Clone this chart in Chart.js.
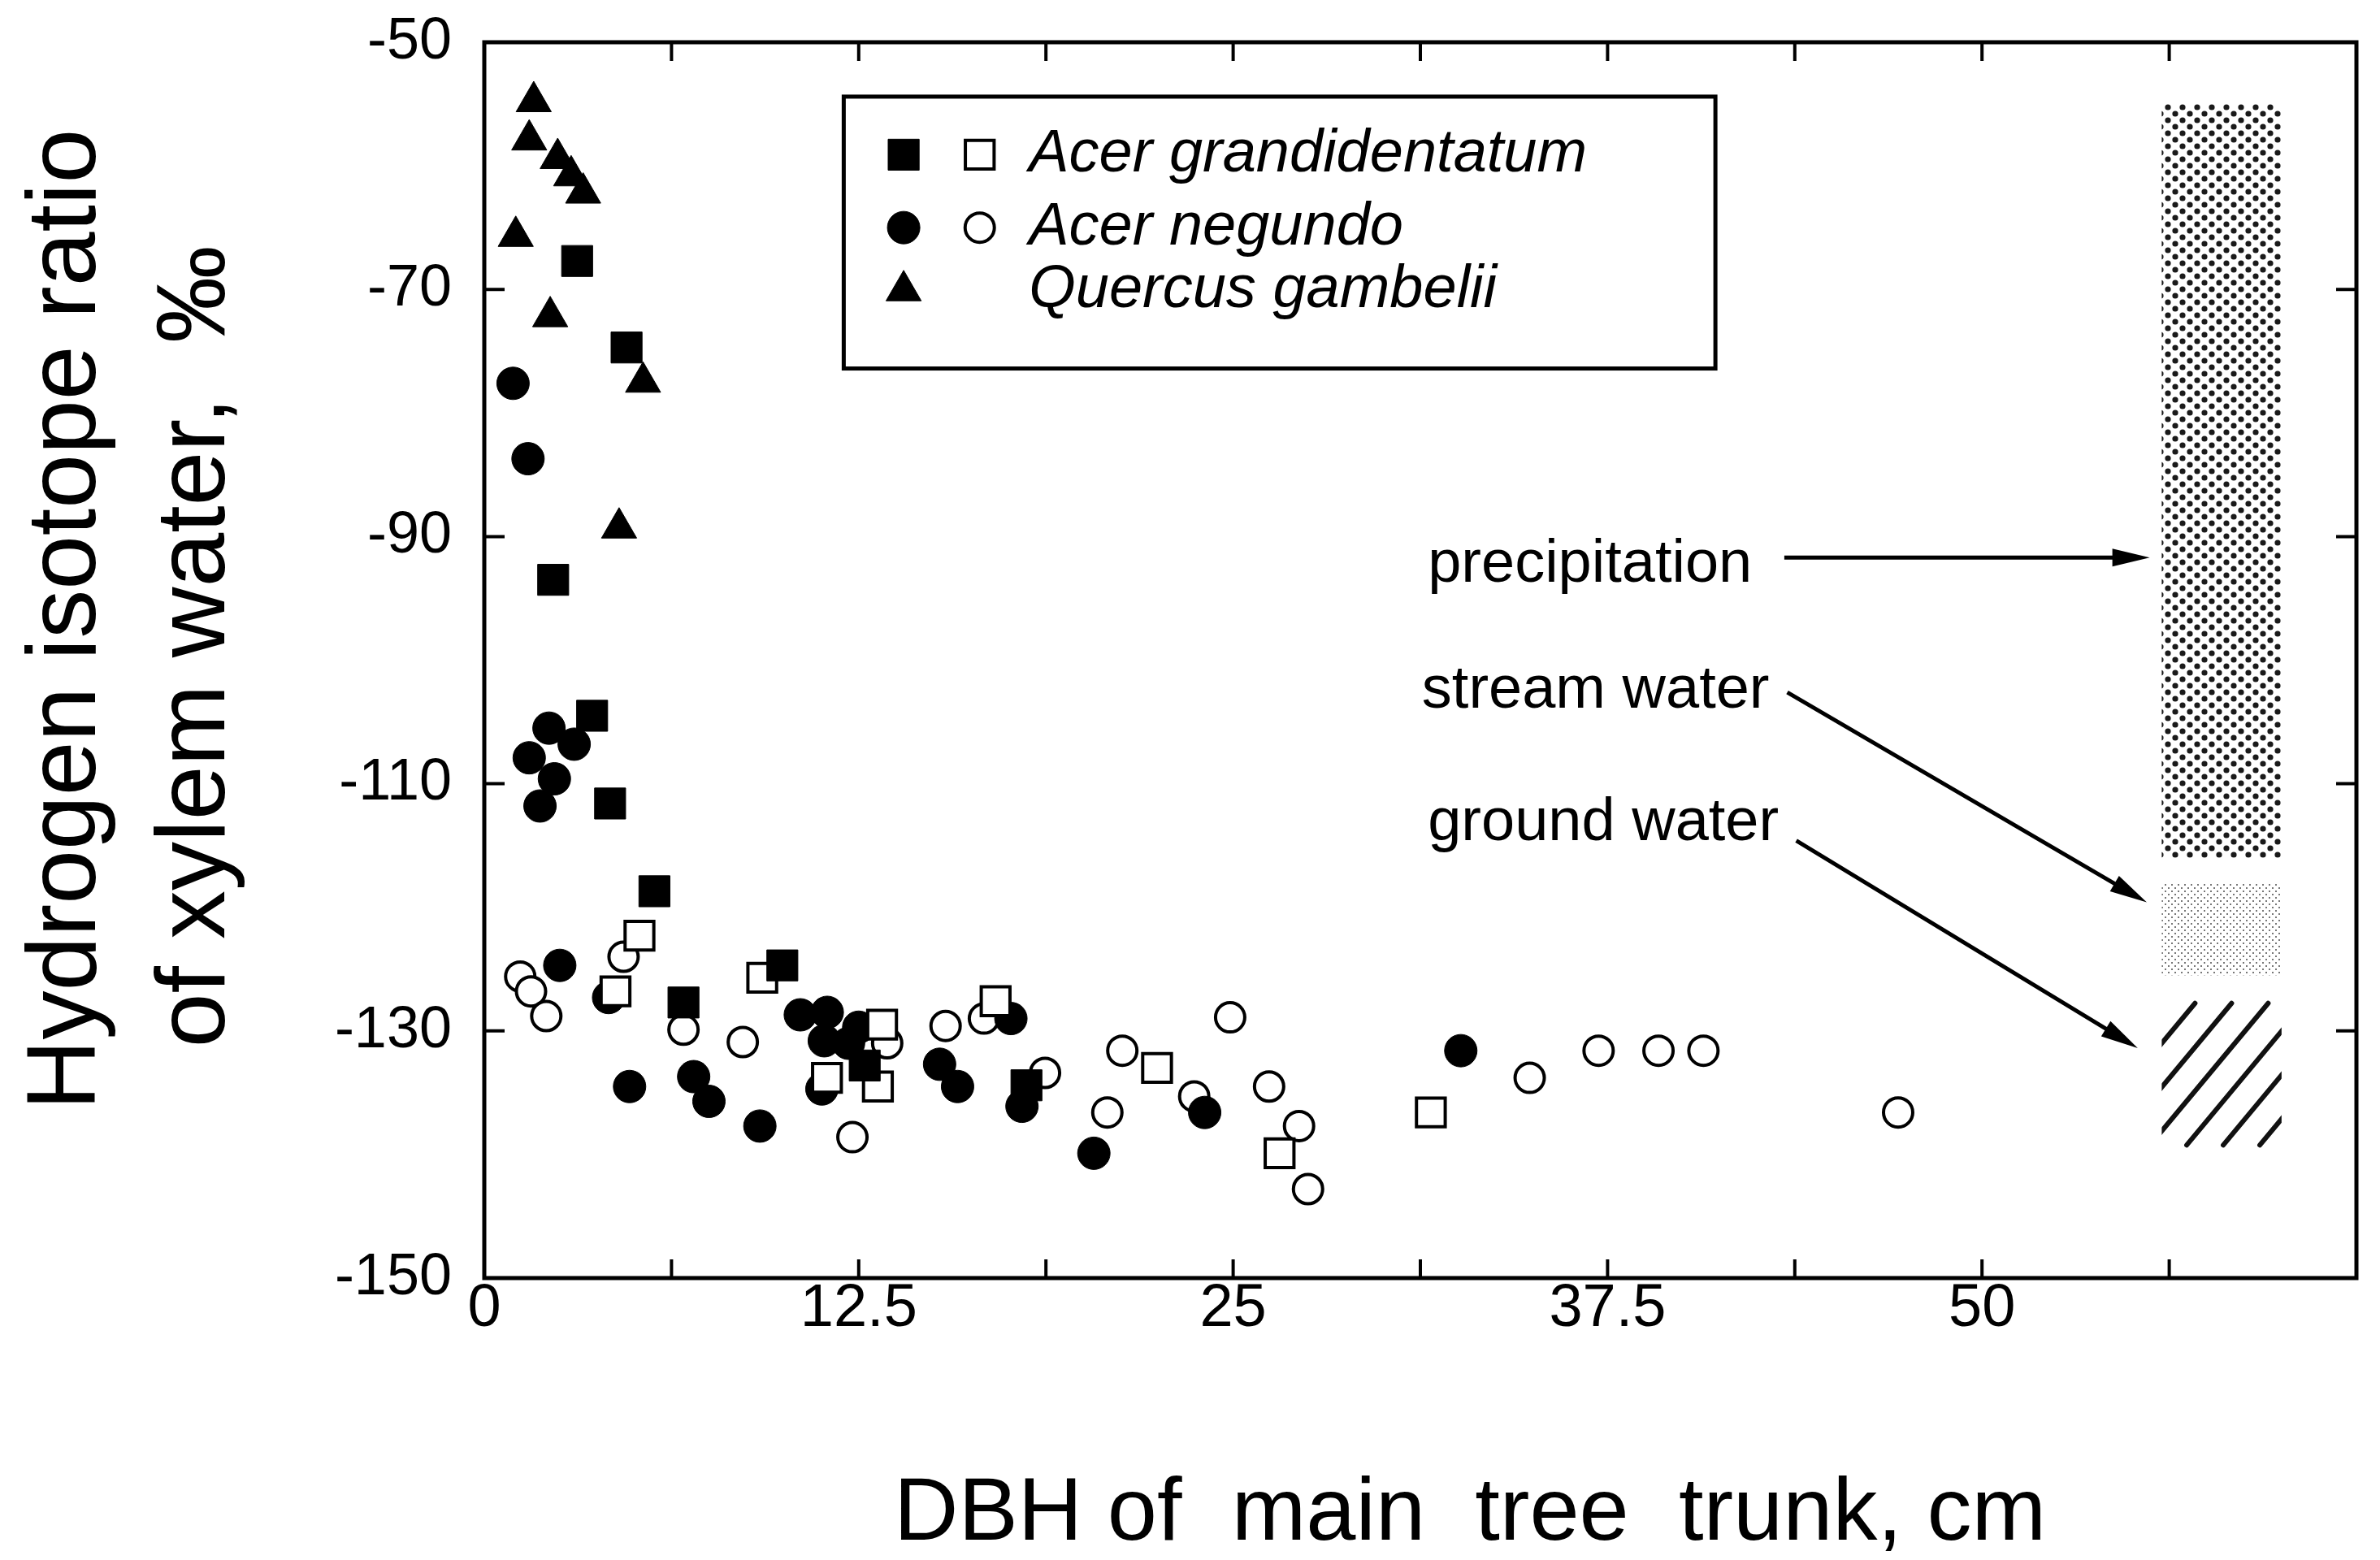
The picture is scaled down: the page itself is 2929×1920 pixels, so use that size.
<!DOCTYPE html>
<html>
<head>
<meta charset="utf-8">
<script src="https://cdn.jsdelivr.net/npm/chart.js@4.4.0/dist/chart.umd.min.js"></script>
<style>
  html, body { margin: 0; padding: 0; background: #fff; }
  #wrap { width: 2929px; height: 1920px; }
</style>
</head>
<body>
<div id="wrap"><canvas id="chart" width="2929" height="1920"></canvas></div>
<script>
// Acer grandidentatum (filled / open squares)
const agFilledX = [3.1, 4.75, 2.3, 3.6, 4.2, 5.68, 6.65, 9.95, 12.7, 18.1];
const agFilledY = [-67.7, -74.7, -93.5, -104.5, -111.6, -118.7, -127.7, -124.7, -132.8, -134.4];
const agOpenX = [5.18, 4.38, 9.28, 11.44, 13.28, 13.14, 17.07, 22.46, 26.55, 31.6];
const agOpenY = [-122.3, -126.8, -125.7, -133.8, -129.5, -134.5, -127.6, -133.0, -139.9, -136.6];

// Acer negundo (filled / open circles)
const anFilledX = [0.96, 1.46, 2.16, 3.0, 1.5, 2.34, 1.86, 2.52, 4.15, 4.85, 6.99, 7.5, 9.2, 10.55, 11.45, 11.35, 12.16, 12.5, 11.27, 15.2, 15.8, 17.58, 17.95, 20.35, 24.05, 32.6];
const anFilledY = [-77.6, -83.7, -105.5, -106.8, -107.9, -109.6, -111.8, -124.7, -127.3, -134.5, -133.7, -135.7, -137.7, -128.7, -128.5, -130.8, -131.0, -129.7, -134.7, -132.7, -134.5, -129.0, -136.1, -139.9, -136.6, -131.6];
const anOpenX = [1.2, 1.56, 2.07, 4.65, 6.65, 8.63, 13.45, 12.29, 15.4, 16.68, 18.72, 20.8, 21.3, 23.7, 24.9, 26.2, 27.2, 27.5, 34.9, 37.2, 39.2, 40.7, 47.2];
const anOpenY = [-125.6, -126.8, -128.8, -124.0, -129.9, -130.9, -131.0, -138.6, -129.6, -129.0, -133.4, -136.6, -131.6, -135.3, -128.9, -134.5, -137.7, -142.8, -133.8, -131.6, -131.6, -131.6, -136.6];

// Quercus gambelii (filled triangles)
const qgX = [1.65, 1.5, 2.45, 2.9, 3.3, 1.05, 2.2, 5.3, 4.5];
const qgY = [-54.8, -57.9, -59.4, -60.8, -62.2, -65.7, -72.2, -77.5, -89.3];

// water source ranges shown as bars on the right
const sourceNames = ['precipitation', 'stream water', 'ground water'];
const sourceMin = [-116, -125.5, -139.5];
const sourceMax = [-55, -118, -127.5];
const sourceDbh = [56, 60];

const speciesNames = ['Acer grandidentatum', 'Acer negundo', 'Quercus gambelii'];
const xTickLabels = [0, 12.5, 25, 37.5, 50];
const yTicks = [-150, -130, -110, -90, -70, -50];

const family = "'Liberation Sans', Arial, Helvetica, sans-serif";

function pts(xs, ys) {
  return xs.map((x, i) => ({ x: x, y: ys[i] }));
}

// same geometry Chart.js uses for its point styles
function drawMarker(ctx, style, x, y, r, filled) {
  ctx.save();
  ctx.lineWidth = filled ? 1 : 4;
  ctx.strokeStyle = '#000';
  ctx.fillStyle = filled ? '#000' : '#fff';
  ctx.beginPath();
  if (style === 'rect') {
    const s = Math.SQRT1_2 * r;
    ctx.rect(x - s, y - s, 2 * s, 2 * s);
  } else if (style === 'circle') {
    ctx.arc(x, y, r, 0, Math.PI * 2);
  } else {
    let a = 0;
    ctx.moveTo(x + Math.sin(a) * r, y - Math.cos(a) * r);
    a += Math.PI * 2 / 3;
    ctx.lineTo(x + Math.sin(a) * r, y - Math.cos(a) * r);
    a += Math.PI * 2 / 3;
    ctx.lineTo(x + Math.sin(a) * r, y - Math.cos(a) * r);
    ctx.closePath();
  }
  ctx.fill();
  ctx.stroke();
  ctx.restore();
}

function makePattern(ctx, kind) {
  const c = document.createElement('canvas');
  const g = c.getContext('2d');
  if (kind === 'precip') {
    c.width = 18; c.height = 16;
    g.fillStyle = '#fff'; g.fillRect(0, 0, 18, 16);
    g.fillStyle = '#1a1a1a';
    [[4, 4], [13, 12]].forEach(p => { g.beginPath(); g.arc(p[0], p[1], 3.6, 0, Math.PI * 2); g.fill(); });
  } else {
    c.width = 8; c.height = 8;
    g.fillStyle = '#fff'; g.fillRect(0, 0, 8, 8);
    g.fillStyle = '#777';
    g.fillRect(0, 0, 2, 2); g.fillRect(4, 4, 2, 2);
  }
  return ctx.createPattern(c, 'repeat');
}

function arrow(ctx, x1, y1, x2, y2) {
  const a = Math.atan2(y2 - y1, x2 - x1);
  const L = 46, W = 11;
  ctx.beginPath();
  ctx.moveTo(x1, y1);
  ctx.lineTo(x2 - L * 0.8 * Math.cos(a), y2 - L * 0.8 * Math.sin(a));
  ctx.stroke();
  ctx.beginPath();
  ctx.moveTo(x2, y2);
  ctx.lineTo(x2 - L * Math.cos(a) + W * Math.sin(a), y2 - L * Math.sin(a) - W * Math.cos(a));
  ctx.lineTo(x2 - L * Math.cos(a) - W * Math.sin(a), y2 - L * Math.sin(a) + W * Math.cos(a));
  ctx.closePath();
  ctx.fill();
}

// labels + arrows pointing at the source bars
const notes = [
  { x: 31.5, y: -92.3, from: [43.4, -91.7], to: [55.6, -91.7] },
  { x: 31.3, y: -102.5, from: [43.5, -102.6], to: [55.5, -119.6] },
  { x: 31.5, y: -113.2, from: [43.8, -114.6], to: [55.2, -131.4] }
];

const legendBox = { x0: 12, x1: 41.1, y0: -54.4, y1: -76.4 };
const legendRows = [
  { y: -59.1, styles: ['rect', 'rect'], r: [27, 25] },
  { y: -65.0, styles: ['circle', 'circle'], r: [20, 18] },
  { y: -70.1, styles: ['triangle'], r: [25] }
];

function noPad(s) {
  s.paddingTop = 0; s.paddingBottom = 0; s.paddingLeft = 0; s.paddingRight = 0;
}

const extras = {
  id: 'extras',
  beforeDatasetsDraw(chart) {
    const ctx = chart.ctx;
    const xs = chart.scales.x, ys = chart.scales.y;
    const left = xs.getPixelForValue(sourceDbh[0]);
    const right = xs.getPixelForValue(sourceDbh[1]);
    ctx.save();
    sourceNames.forEach((name, i) => {
      const top = ys.getPixelForValue(sourceMax[i]);
      const bot = ys.getPixelForValue(sourceMin[i]);
      if (i < 2) {
        ctx.fillStyle = makePattern(ctx, i === 0 ? 'precip' : 'stream');
        ctx.fillRect(left, top, right - left, bot - top);
      } else {
        ctx.save();
        ctx.beginPath();
        ctx.rect(left, top, right - left, bot - top);
        ctx.clip();
        ctx.strokeStyle = '#111';
        ctx.lineWidth = 6;
        ctx.lineCap = 'round';
        const h = bot - top, dx = h * 0.84;
        for (let x = left - dx; x < right + 10; x += 45) {
          ctx.beginPath();
          ctx.moveTo(x + 4, bot - 4);
          ctx.lineTo(x + dx - 4, top + 4);
          ctx.stroke();
        }
        ctx.restore();
      }
    });

    ctx.fillStyle = '#000';
    ctx.strokeStyle = '#000';
    ctx.lineWidth = 5;
    ctx.font = '74px ' + family;
    ctx.textAlign = 'left';
    ctx.textBaseline = 'middle';
    notes.forEach((n, i) => {
      ctx.fillText(sourceNames[i], xs.getPixelForValue(n.x), ys.getPixelForValue(n.y));
      arrow(ctx, xs.getPixelForValue(n.from[0]), ys.getPixelForValue(n.from[1]),
        xs.getPixelForValue(n.to[0]), ys.getPixelForValue(n.to[1]));
    });
    ctx.restore();
  },
  afterDatasetsDraw(chart) {
    const ctx = chart.ctx;
    const xs = chart.scales.x, ys = chart.scales.y;
    const a = chart.chartArea;
    ctx.save();
    // frame with inward ticks on all four sides
    ctx.strokeStyle = '#000';
    ctx.lineWidth = 5;
    ctx.strokeRect(a.left, a.top, a.right - a.left, a.bottom - a.top);
    ctx.lineWidth = 4;
    xs.ticks.forEach(t => {
      const px = xs.getPixelForValue(t.value);
      ctx.beginPath();
      ctx.moveTo(px, a.bottom); ctx.lineTo(px, a.bottom - 23);
      ctx.moveTo(px, a.top); ctx.lineTo(px, a.top + 23);
      ctx.stroke();
    });
    ys.ticks.forEach(t => {
      const py = ys.getPixelForValue(t.value);
      ctx.beginPath();
      ctx.moveTo(a.left, py); ctx.lineTo(a.left + 25, py);
      ctx.moveTo(a.right, py); ctx.lineTo(a.right - 25, py);
      ctx.stroke();
    });

    // legend box
    const bx0 = xs.getPixelForValue(legendBox.x0), bx1 = xs.getPixelForValue(legendBox.x1);
    const by0 = ys.getPixelForValue(legendBox.y0), by1 = ys.getPixelForValue(legendBox.y1);
    ctx.fillStyle = '#fff';
    ctx.fillRect(bx0, by0, bx1 - bx0, by1 - by0);
    ctx.lineWidth = 5;
    ctx.strokeRect(bx0, by0, bx1 - bx0, by1 - by0);
    const m1 = xs.getPixelForValue(14.0), m2 = xs.getPixelForValue(16.54);
    const tx = xs.getPixelForValue(18.18);
    ctx.font = 'italic 74px ' + family;
    ctx.textAlign = 'left';
    ctx.textBaseline = 'middle';
    legendRows.forEach((row, i) => {
      const py = ys.getPixelForValue(row.y);
      drawMarker(ctx, row.styles[0], m1, py, row.r[0], true);
      if (row.styles[1]) drawMarker(ctx, row.styles[1], m2, py, row.r[1], false);
      ctx.fillStyle = '#000';
      ctx.fillText(speciesNames[i], tx, py);
    });
    ctx.restore();
  }
};

const ctx = document.getElementById('chart').getContext('2d');
const chart = new Chart(ctx, {
  type: 'scatter',
  data: {
    datasets: [
      { label: speciesNames[2], data: pts(qgX, qgY), order: 1, pointStyle: 'triangle',
        pointRadius: 25, backgroundColor: '#000', borderColor: '#000', borderWidth: 1 },
      { label: speciesNames[0], data: pts(agFilledX, agFilledY), order: 2, pointStyle: 'rect',
        pointRadius: 27, backgroundColor: '#000', borderColor: '#000', borderWidth: 1 },
      { label: speciesNames[0] + ' (open)', data: pts(agOpenX, agOpenY), order: 3, pointStyle: 'rect',
        pointRadius: 25, backgroundColor: '#fff', borderColor: '#000', borderWidth: 4 },
      { label: speciesNames[1], data: pts(anFilledX, anFilledY), order: 4, pointStyle: 'circle',
        pointRadius: 20, backgroundColor: '#000', borderColor: '#000', borderWidth: 1 },
      { label: speciesNames[1] + ' (open)', data: pts(anOpenX, anOpenY), order: 5, pointStyle: 'circle',
        pointRadius: 18, backgroundColor: '#fff', borderColor: '#000', borderWidth: 4 }
    ]
  },
  options: {
    responsive: false,
    animation: false,
    devicePixelRatio: 1,
    events: [],
    layout: { padding: { top: 52, right: 8, left: 0, bottom: 0 } },
    plugins: { legend: { display: false }, tooltip: { enabled: false } },
    scales: {
      x: {
        type: 'linear', min: 0, max: 62.5,
        afterFit: s => { s.height = 347; noPad(s); },
        grid: { display: false }, border: { display: false },
        ticks: {
          stepSize: 6.25, autoSkip: false, maxRotation: 0, minRotation: 0, padding: -6,
          color: '#000', font: { family: family, size: 74, lineHeight: 1 },
          callback: v => xTickLabels.includes(v) ? String(v) : ''
        },
        title: {
          display: true, text: '    DBH of  main  tree  trunk, cm', color: '#000',
          font: { family: family, size: 110, lineHeight: 1 }, padding: { top: 0, bottom: 0 }
        }
      },
      y: {
        type: 'linear', min: -150, max: -50,
        afterFit: s => { s.width = 596; noPad(s); },
        afterBuildTicks: s => { s.ticks = yTicks.map(v => ({ value: v })); },
        grid: { display: false }, border: { display: false },
        ticks: {
          padding: 32, color: '#000', font: { family: family, size: 72 },
          callback: v => String(v)
        },
        title: {
          display: true, text: ['   Hydrogen isotope ratio', ' of xylem water,  \u2030'], color: '#000',
          font: { family: family, size: 120, lineHeight: 1.325 }, padding: { top: 4, bottom: 0 }
        }
      }
    }
  },
  plugins: [extras]
});
</script>
</body>
</html>
